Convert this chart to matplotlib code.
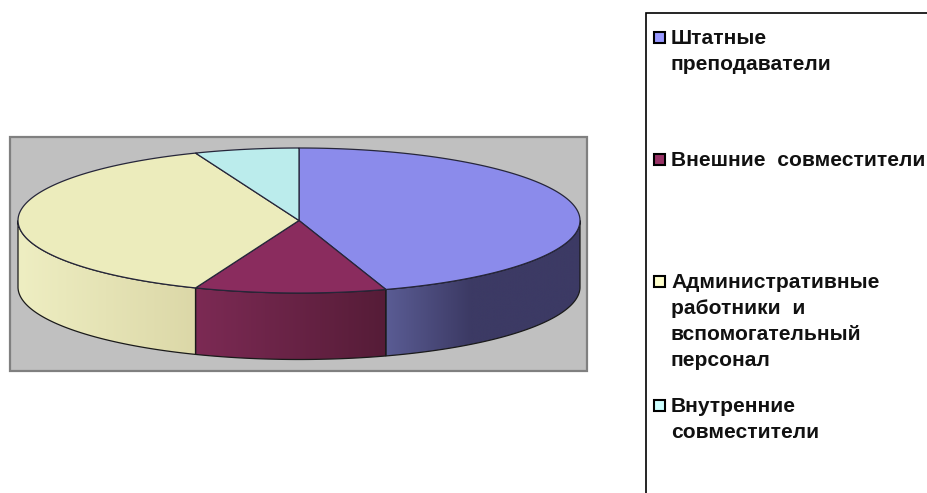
import numpy as np
import matplotlib
matplotlib.use("Agg")
import matplotlib.pyplot as plt
from matplotlib.patches import Polygon, Rectangle

# shares of the pie (percent)
labels = ["Штатные\nпреподаватели", "Внешние  совместители",
          "Административные\nработники  и\nвспомогательный\nперсонал",
          "Внутренние\nсовместители"]
values = [45, 11, 38, 6]

top_colors = ["#8b8beb", "#8a2c5e", "#ececbc", "#bbecec"]
legend_colors = ["#9999ff", "#993366", "#ffffcc", "#ccffff"]
# side wall shading, left colour -> right colour, and where it stops changing
side_left = ["#5a5c94", "#7c2a54", "#eeeec2"]
side_right = ["#3c3a64", "#551c37", "#dcd8a8"]
side_stop = [470, 388, 194]

# geometry in image pixels
cx, cy = 299, 220.5
rx, ry = 281, 72.5
depth = 66.5

fig = plt.figure(figsize=(9.28, 4.93), dpi=100)
ax = fig.add_axes([0, 0, 1, 1])
ax.set_xlim(0, 928)
ax.set_ylim(493, 0)
ax.axis("off")


def rim(a0, a1):
    # angles in degrees clockwise from 12 o'clock
    t = np.radians(np.linspace(a0, a1, 200))
    return cx + rx * np.sin(t), cy - ry * np.cos(t)


def hex_rgb(c):
    return np.array(matplotlib.colors.to_rgb(c))


# plot area
ax.add_patch(Rectangle((10, 137), 577, 234, fc="#c0c0c0", ec="#808080", lw=1.6, zorder=1))

edges = np.cumsum([0] + values) / sum(values) * 360

# side walls, only the front half of the rim shows
for i in range(len(values)):
    a0, a1 = max(edges[i], 90), min(edges[i + 1], 270)
    if a1 <= a0:
        continue
    x, y = rim(a0, a1)
    pts = np.vstack([np.column_stack([x, y]),
                     np.column_stack([x[::-1], y[::-1] + depth])])
    x_lo, x_hi = x.min(), x.max()
    xs = np.linspace(x_lo, x_hi, 256)
    # gradient runs left to right, clamped at the stop position
    f = np.clip((xs - x_lo) / (side_stop[i] - x_lo), 0, 1)
    img = hex_rgb(side_left[i])[None, :] * (1 - f[:, None]) + hex_rgb(side_right[i])[None, :] * f[:, None]
    im = ax.imshow(img[None, :, :], extent=(x_lo, x_hi, y.max() + depth, y.min()),
                   aspect="auto", zorder=2, interpolation="bilinear")
    outline = Polygon(pts, closed=True, fc="none", ec="#1a1a1a", lw=0.9, zorder=3)
    ax.add_patch(outline)
    im.set_clip_path(outline)
ax.set_xlim(0, 928)
ax.set_ylim(493, 0)

# top face
for i in range(len(values)):
    x, y = rim(edges[i], edges[i + 1])
    pts = np.vstack([[cx, cy], np.column_stack([x, y])])
    ax.add_patch(Polygon(pts, closed=True, fc=top_colors[i], ec="#26263a", lw=0.9, zorder=4))

# legend box, runs off the right and bottom of the image
ax.add_patch(Rectangle((646, 13), 300, 500, fc="white", ec="black", lw=1.2, zorder=1))

entry_y = [37, 159, 281, 405]
line_step = 25.8
for name, col, y0 in zip(labels, legend_colors, entry_y):
    ax.add_patch(Rectangle((654.5, y0 - 5.5), 11, 11, fc=col, ec="black", lw=1.5, zorder=5))
    for k, line in enumerate(name.split("\n")):
        ax.text(671, y0 + k * line_step, line, family="Liberation Sans", weight="bold",
                fontsize=15.1, color="#111111", ha="left", va="center_baseline", zorder=5)

fig.savefig("out.png", dpi=100)
